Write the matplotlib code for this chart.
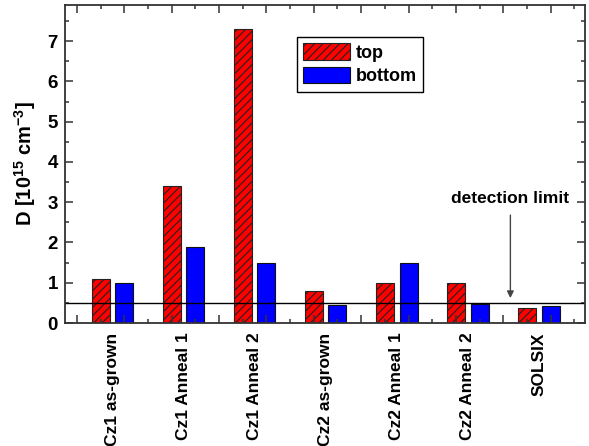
import matplotlib
matplotlib.use("Agg")
import matplotlib.pyplot as plt
from matplotlib.ticker import MultipleLocator
from matplotlib import transforms

plt.rcParams["font.family"] = ["Liberation Sans", "DejaVu Sans"]
plt.rcParams["font.weight"] = "bold"
plt.rcParams["mathtext.fontset"] = "custom"
plt.rcParams["mathtext.rm"] = "Liberation Sans:bold"
plt.rcParams["mathtext.bf"] = "Liberation Sans:bold"
plt.rcParams["hatch.linewidth"] = 0.8

# sample names and measured D values (10^15 cm^-3)
samples = ["Cz1 as-grown", "Cz1 Anneal 1", "Cz1 Anneal 2", "Cz2 as-grown",
           "Cz2 Anneal 1", "Cz2 Anneal 2", "SOLSIX"]
top_vals = [1.1, 3.4, 7.3, 0.8, 1.0, 1.0, 0.38]
bottom_vals = [1.0, 1.9, 1.5, 0.45, 1.5, 0.48, 0.43]
detection_limit = 0.5

fig = plt.figure(figsize=(5.89, 4.46), dpi=100)
ax = fig.add_axes([65 / 589, 1 - 323 / 446, 520 / 589, 318 / 446])

# each sample occupies 3 slots: gap, top, bottom
x_top = [3 * i + 1 for i in range(len(samples))]
x_bot = [3 * i + 2 for i in range(len(samples))]
x_lab = [3 * i + 1.5 for i in range(len(samples))]

ax.bar(x_top, top_vals, width=0.76, color="#ff0000", edgecolor="#222222",
       linewidth=0.8, hatch="////", label="top")
ax.bar(x_bot, bottom_vals, width=0.76, color="#0000ff", edgecolor="#111111",
       linewidth=0.8, label="bottom")

ax.axhline(detection_limit, color="black", linewidth=1.0)

ax.set_xlim(-0.5, 21.45)
ax.set_ylim(0, 7.9)

ax.xaxis.set_major_locator(MultipleLocator(2))
ax.xaxis.set_minor_locator(MultipleLocator(1))
ax.set_xticklabels([])
ax.yaxis.set_major_locator(MultipleLocator(1))
ax.yaxis.set_minor_locator(MultipleLocator(0.5))
ax.tick_params(which="both", direction="in", top=True, right=True,
               width=1.1, color="#333333")
ax.tick_params(which="major", length=6)
ax.tick_params(which="minor", length=3)
ax.tick_params(axis="y", labelsize=13.5, pad=5)
ax.tick_params(axis="x", labelbottom=False)
for s in ax.spines.values():
    s.set_linewidth(1.3)
    s.set_color("#333333")

trans = transforms.blended_transform_factory(ax.transData, ax.transAxes)
for x, name in zip(x_lab, samples):
    ax.text(x, -0.03, name, transform=trans, rotation=90, ha="center",
            va="top", fontsize=12.5, fontweight="bold")

ax.set_ylabel(r"D [10$^{15}$ cm$^{-3}$]", fontsize=14.5, fontweight="bold",
              labelpad=7)

ax.annotate("", xy=(18.3, 0.55), xytext=(18.3, 2.75),
            arrowprops=dict(arrowstyle="-|>", color="#444444", lw=1.0,
                            mutation_scale=10))
ax.text(18.3, 3.1, "detection limit", ha="center", va="center",
        fontsize=12.5, fontweight="bold")

leg = ax.legend(loc="upper left", bbox_to_anchor=(0.446, 0.899),
                borderaxespad=0, fancybox=False, edgecolor="black",
                framealpha=1, fontsize=13, handlelength=2.6,
                handleheight=1.0, handletextpad=0.3, labelspacing=0.3,
                borderpad=0.35)
leg.get_frame().set_linewidth(1.0)

fig.savefig("out.png", dpi=100)
